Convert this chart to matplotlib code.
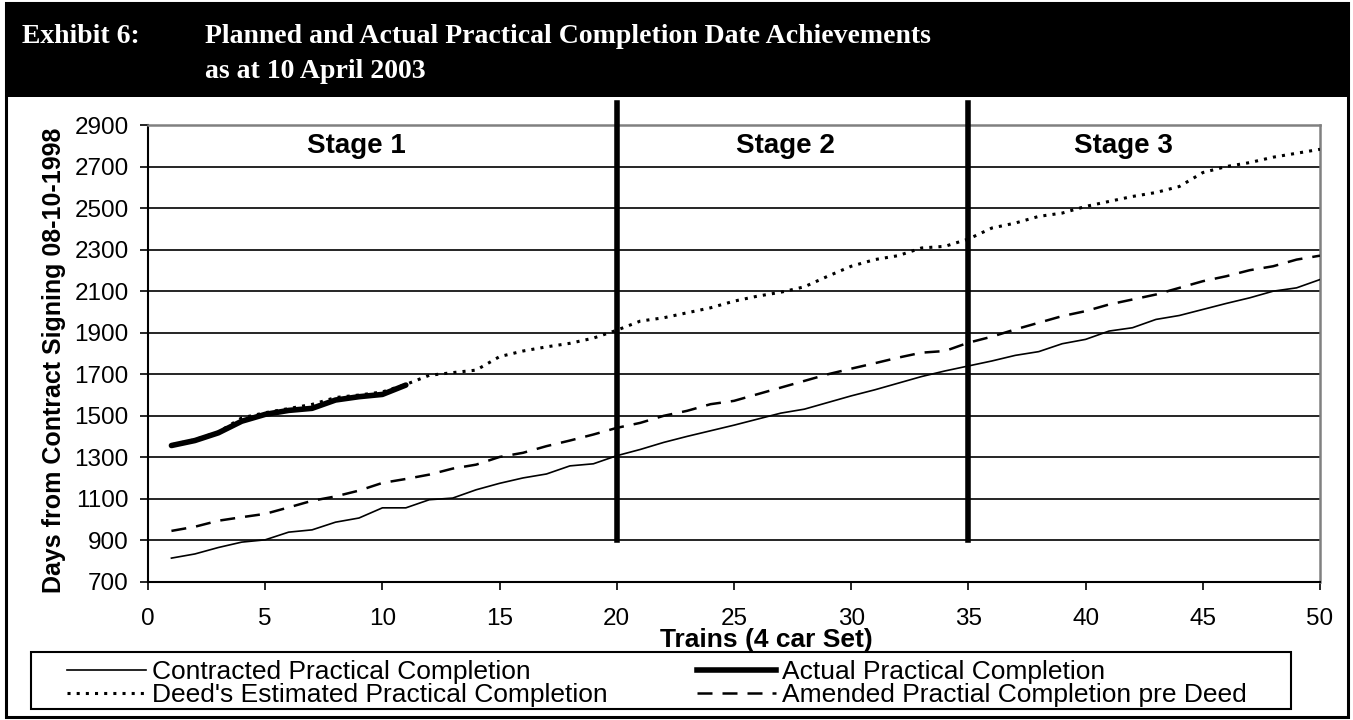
import numpy as np
import matplotlib.pyplot as plt
from matplotlib.patches import Rectangle
from matplotlib.lines import Line2D

plt.rcParams['font.family'] = ['Liberation Sans', 'DejaVu Sans']

# data
trains = np.arange(1, 51)

contracted = [815, 835, 866, 892, 903, 940, 951, 988, 1008, 1057,
              1057, 1096, 1104, 1144, 1175, 1201, 1220, 1259, 1269, 1308,
              1338, 1372, 1401, 1428, 1455, 1484, 1513, 1532, 1564, 1596,
              1625, 1657, 1689, 1716, 1740, 1764, 1791, 1809, 1847, 1868,
              1908, 1924, 1964, 1983, 2012, 2041, 2068, 2100, 2116, 2156]

amended = [946, 966, 995, 1012, 1028, 1059, 1091, 1112, 1140, 1177,
           1196, 1217, 1246, 1265, 1302, 1322, 1354, 1381, 1410, 1442,
           1466, 1500, 1524, 1556, 1572, 1604, 1636, 1668, 1700, 1727,
           1753, 1780, 1804, 1812, 1852, 1881, 1916, 1948, 1980, 2004,
           2036, 2060, 2084, 2116, 2148, 2172, 2201, 2220, 2252, 2271]

deed = [1360, 1385, 1422, 1490, 1515, 1535, 1555, 1588, 1600, 1615,
        1651, 1695, 1708, 1720, 1785, 1812, 1832, 1849, 1874, 1912,
        1956, 1972, 1996, 2020, 2052, 2076, 2095, 2121, 2172, 2220,
        2252, 2271, 2308, 2316, 2351, 2404, 2428, 2460, 2476, 2508,
        2532, 2556, 2575, 2604, 2671, 2700, 2719, 2745, 2764, 2783]

actual_trains = np.arange(1, 12)
actual = [1357, 1381, 1418, 1474, 1507, 1526, 1536, 1576, 1592, 1603, 1648]

stage_bounds = [20, 35]
stage_names = ['Stage 1', 'Stage 2', 'Stage 3']
stage_label_x = [8.9, 27.2, 41.6]

W, H = 1353, 720
fig = plt.figure(figsize=(W / 100, H / 100), dpi=100)

# header bar + outer frame
fig.patches.append(Rectangle((5 / W, 1 - 97 / H), (W - 10) / W, 94 / H, transform=fig.transFigure,
                             facecolor='black', edgecolor='none', zorder=0))
fig.patches.append(Rectangle((6 / W, 3 / H), (W - 11) / W, (H - 6) / H, transform=fig.transFigure,
                             facecolor='none', edgecolor='black', lw=2.2, zorder=0))
hdr = dict(color='white', fontsize=20, fontweight='bold', family='Liberation Serif', va='baseline')
fig.text(22 / W, 1 - 43 / H, 'Exhibit 6:', **hdr)
fig.text(205 / W, 1 - 43 / H, 'Planned and Actual Practical Completion Date Achievements', **hdr)
fig.text(205 / W, 1 - 78 / H, 'as at 10 April 2003', **hdr)

ax = fig.add_axes([148 / W, 1 - 582 / H, (1320 - 148) / W, (582 - 125) / H])
ax.set_xlim(0, 50)
ax.set_ylim(700, 2900)
ax.set_xticks(range(0, 51, 5))
ax.set_yticks(range(700, 2901, 200))
for v in range(900, 2900, 200):
    ax.axhline(v, color='black', lw=1.2, zorder=1)
ax.tick_params(labelsize=17.5, length=6, width=1.2, direction='out')
ax.tick_params(axis='y', pad=8)
ax.tick_params(axis='x', pad=13)
for s in ['top', 'right']:
    ax.spines[s].set_color('#808080')
    ax.spines[s].set_linewidth(1.8)
for s in ['left', 'bottom']:
    ax.spines[s].set_linewidth(1.5)

dot_style = dict(color='black', lw=2.2, dashes=(1, 2))
dash_style = dict(color='black', lw=1.8, dashes=(6, 4))

ax.plot(trains, contracted, color='black', lw=1.2, zorder=3)
ax.plot(trains, deed, zorder=3, **dot_style)
ax.plot(actual_trains, actual, color='black', lw=4, solid_capstyle='round', zorder=4)
ax.plot(trains, amended, zorder=3, **dash_style)

ymax_frac = (582 - 103) / (582 - 125)
for b in stage_bounds:
    ax.axvline(b, ymin=(900 - 700) / 2200, ymax=ymax_frac, color='black', lw=4,
               clip_on=False, zorder=5)

for name, sx in zip(stage_names, stage_label_x):
    ax.text(sx, 2797, name, ha='center', va='center', fontsize=20, fontweight='bold')

ax.set_ylabel('Days from Contract Signing 08-10-1998', fontsize=18, fontweight='bold', va='center')
ax.yaxis.set_label_coords((54 - 148) / 1172, (582 - 360) / 457)
ax.set_xlabel('Trains (4 car Set)', fontsize=19, fontweight='bold', va='center')
ax.xaxis.set_label_coords((766 - 148) / 1172, (582 - 640) / 457)

# legend box
fig.patches.append(Rectangle((31 / W, 1 - 709 / H), (1291 - 31) / W, (709 - 652) / H,
                             transform=fig.transFigure, facecolor='white', edgecolor='black',
                             lw=1.5, zorder=1))
h1 = Line2D([], [], color='black', lw=1.2)
h2 = Line2D([], [], color='black', lw=4)
h3 = Line2D([], [], **dot_style)
h4 = Line2D([], [], **dash_style)
leg_kw = dict(loc='upper left', frameon=False, fontsize=19, handlelength=3.0,
              handletextpad=0.22, labelspacing=-0.03, borderpad=0, borderaxespad=0)
fig.legend([h1, h3], ['Contracted Practical Completion', "Deed's Estimated Practical Completion"],
           bbox_to_anchor=(67 / W, 1 - 660 / H), **leg_kw)
fig.legend([h2, h4], ['Actual Practical Completion', 'Amended Practial Completion pre Deed'],
           bbox_to_anchor=(697 / W, 1 - 660 / H), **leg_kw)

fig.savefig('out.png', dpi=100)
